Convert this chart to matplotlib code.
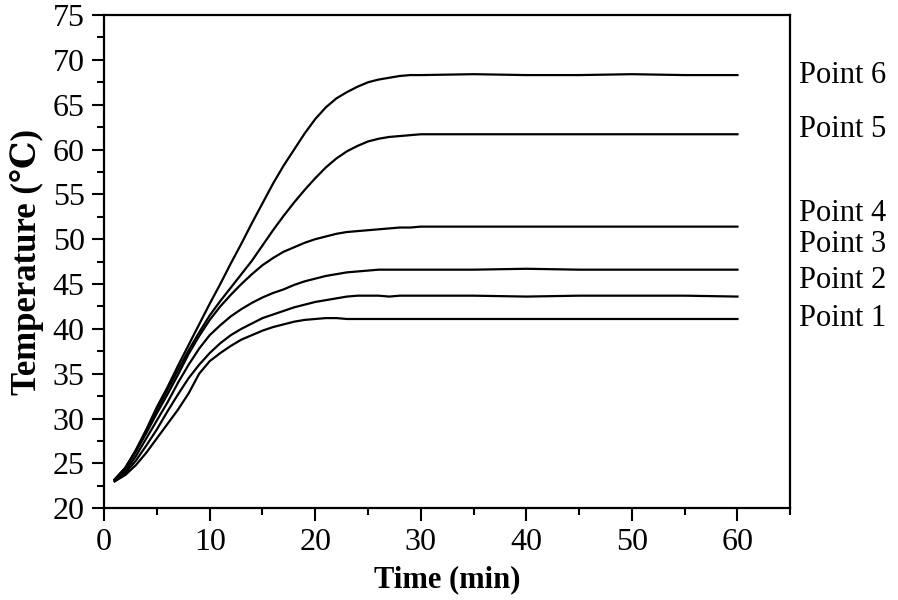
import matplotlib.pyplot as plt
from matplotlib.ticker import MultipleLocator

plt.rcParams['font.family'] = ['Liberation Serif', 'DejaVu Serif']

# time (min)
t_rise = [1, 2, 3, 4, 5, 6, 7, 8, 9, 10, 11, 12, 13, 14, 15, 16, 17, 18, 19, 20,
          21, 22, 23, 24, 25, 26, 27, 28, 29, 30]
t_flat = [35, 40, 45, 50, 55, 60]
time = t_rise + t_flat

# temperature (C) of each measuring point
point1 = [23.0, 23.7, 24.8, 26.2, 27.8, 29.4, 31.0, 32.8, 35.0, 36.4, 37.3, 38.1, 38.8, 39.3, 39.8,
          40.2, 40.5, 40.8, 41.0, 41.1, 41.2, 41.2, 41.1, 41.1, 41.1, 41.1, 41.1, 41.1, 41.1, 41.1,
          41.1, 41.1, 41.1, 41.1, 41.1, 41.1]
point2 = [23.0, 23.9, 25.3, 27.0, 28.8, 30.8, 32.7, 34.5, 36.0, 37.3, 38.4, 39.3, 40.0, 40.6, 41.2,
          41.6, 42.0, 42.4, 42.7, 43.0, 43.2, 43.4, 43.6, 43.7, 43.7, 43.7, 43.6, 43.7, 43.7, 43.7,
          43.7, 43.6, 43.7, 43.7, 43.7, 43.6]
point3 = [23.1, 24.1, 25.8, 27.8, 29.8, 31.8, 34.0, 36.0, 37.8, 39.3, 40.4, 41.4, 42.2, 42.9, 43.5,
          44.0, 44.4, 44.9, 45.3, 45.6, 45.9, 46.1, 46.3, 46.4, 46.5, 46.6, 46.6, 46.6, 46.6, 46.6,
          46.6, 46.7, 46.6, 46.6, 46.6, 46.6]
point4 = [23.2, 24.4, 26.3, 28.4, 30.6, 32.7, 34.9, 37.2, 39.2, 41.0, 42.5, 43.8, 45.0, 46.1, 47.1,
          47.9, 48.6, 49.1, 49.6, 50.0, 50.3, 50.6, 50.8, 50.9, 51.0, 51.1, 51.2, 51.3, 51.3, 51.4,
          51.4, 51.4, 51.4, 51.4, 51.4, 51.4]
point5 = [23.2, 24.5, 26.4, 28.6, 31.0, 33.2, 35.4, 37.6, 39.6, 41.5, 43.1, 44.6, 46.1, 47.6, 49.3,
          51.0, 52.6, 54.1, 55.5, 56.8, 58.0, 59.0, 59.8, 60.4, 60.9, 61.2, 61.4, 61.5, 61.6, 61.7,
          61.7, 61.7, 61.7, 61.7, 61.7, 61.7]
point6 = [23.2, 24.5, 26.5, 28.8, 31.3, 33.5, 35.9, 38.2, 40.5, 42.8, 45.0, 47.3, 49.5, 51.8, 54.0,
          56.2, 58.2, 60.0, 61.8, 63.4, 64.7, 65.7, 66.4, 67.0, 67.5, 67.8, 68.0, 68.2, 68.3, 68.3,
          68.4, 68.3, 68.3, 68.4, 68.3, 68.3]

series = [point1, point2, point3, point4, point5, point6]
labels = ['Point 1', 'Point 2', 'Point 3', 'Point 4', 'Point 5', 'Point 6']
label_y = [41.2, 45.4, 49.4, 52.9, 62.2, 68.3]

fig = plt.figure(figsize=(8.98, 6.0), dpi=100)
ax = fig.add_axes([0.116, 0.153, 0.764, 0.822])

for s in series:
    ax.plot(time, s, color='black', linewidth=1.6)

for lab, ly in zip(labels, label_y):
    ax.text(65.8, ly, lab, fontsize=22, va='center', ha='left', clip_on=False)

ax.set_xlim(0, 65)
ax.set_ylim(20, 75)
ax.xaxis.set_major_locator(MultipleLocator(10))
ax.xaxis.set_minor_locator(MultipleLocator(5))
ax.yaxis.set_major_locator(MultipleLocator(5))
ax.yaxis.set_minor_locator(MultipleLocator(2.5))
ax.tick_params(which='major', direction='out', length=9, width=1.5, labelsize=23, pad=5)
ax.tick_params(which='minor', direction='out', length=5, width=1.5)
for sp in ax.spines.values():
    sp.set_linewidth(1.6)

ax.set_xlabel('Time (min)', fontsize=22, fontweight='bold', labelpad=6)
ax.set_ylabel('Temperature (℃)', fontsize=25, fontweight='bold', labelpad=6)

fig.savefig('out.png', dpi=100)
